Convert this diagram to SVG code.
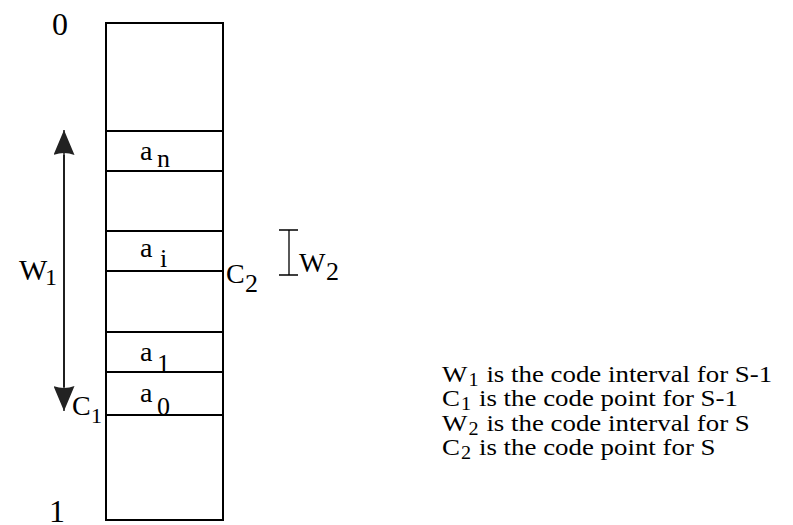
<svg xmlns="http://www.w3.org/2000/svg" width="793" height="525" viewBox="0 0 793 525">
<style>
text{font-family:"Liberation Serif","Times New Roman",serif;fill:#000}
.num{font-size:32px}
.cell{font-size:28px}
.sub{font-size:26px}
.leg{font-size:24px}
.ln{stroke:#000;stroke-width:2;fill:none}
.thin{stroke:#000;stroke-width:1.3;fill:none}
</style>
<defs>
<marker id="ah" viewBox="0 0 25 21" refX="25" refY="10.5" markerWidth="25" markerHeight="21" markerUnits="userSpaceOnUse" orient="auto">
<path d="M0,0 L25,10.5 L0,21 Q4,10.5 0,0 Z" fill="#222"/>
</marker>
</defs>
<rect width="793" height="525" fill="#fff"/>
<g id="column">
<rect x="106" y="23" width="117" height="497" class="ln"/>
</g>
<g id="cell-an">
<rect x="106" y="131" width="117" height="40" class="ln"/>
<text x="140" y="160" class="cell">a<tspan x="157" y="167" class="sub">n</tspan></text>
</g>
<g id="cell-ai">
<rect x="106" y="231" width="117" height="40" class="ln"/>
<text x="140" y="257" class="cell">a<tspan x="160" y="267" class="sub">i</tspan></text>
</g>
<g id="cell-a1">
<rect x="106" y="332" width="117" height="40" class="ln"/>
<text x="140" y="361" class="cell">a<tspan x="157" y="372" class="sub">1</tspan></text>
</g>
<g id="cell-a0">
<rect x="106" y="372" width="117" height="43" class="ln"/>
<text x="140" y="402" class="cell">a<tspan x="157" y="415" class="sub">0</tspan></text>
</g>
<g id="labels">
<text x="52" y="35" class="num">0</text>
<text x="49" y="522" class="num">1</text>
<text x="19" y="280" font-size="30">W<tspan x="45" y="285" font-size="24">1</tspan></text>
<text x="72" y="415" font-size="28">C<tspan x="91" y="423" font-size="22">1</tspan></text>
<text x="226" y="283" font-size="28">C<tspan x="245" y="292" font-size="26">2</tspan></text>
<text x="299" y="272" font-size="28">W<tspan x="326" y="280" font-size="26">2</tspan></text>
</g>
<g id="connectors">
<line x1="64" y1="387" x2="64" y2="130" class="thin" marker-end="url(#ah)"/>
<line x1="64" y1="155" x2="64" y2="411" class="thin" marker-end="url(#ah)"/>
<path d="M279,230 H298 M289,230 V275 M279,275 H298" class="thin"/>
</g>
<g id="legend" transform="translate(442,0) scale(1.12,1)">
<text x="0" y="382" class="leg">W<tspan font-size="18" dx="1" dy="4">1</tspan><tspan dx="1" dy="-4"> is the code interval for S-1</tspan></text>
<text x="0" y="406" class="leg">C<tspan font-size="18" dx="1" dy="4">1</tspan><tspan dx="1" dy="-4"> is the code point for S-1</tspan></text>
<text x="0" y="431" class="leg">W<tspan font-size="18" dx="1" dy="4">2</tspan><tspan dx="1" dy="-4"> is the code interval for S</tspan></text>
<text x="0" y="455" class="leg">C<tspan font-size="18" dx="1" dy="4">2</tspan><tspan dx="1" dy="-4"> is the code point for S</tspan></text>
</g>
</svg>
